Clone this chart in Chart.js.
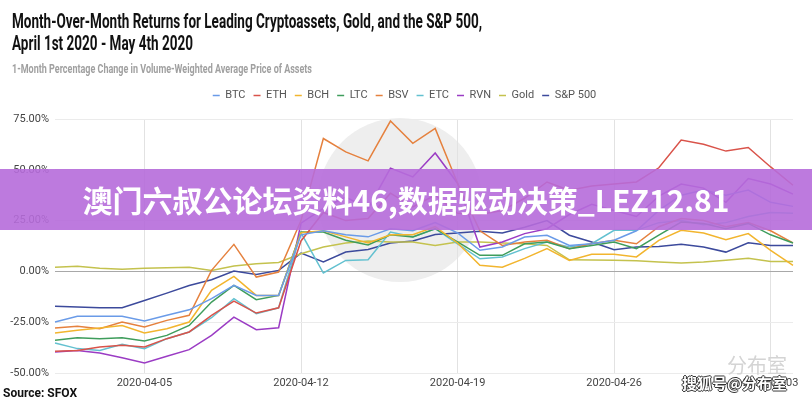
<!DOCTYPE html>
<html>
<head>
<meta charset="utf-8">
<script src="https://cdn.jsdelivr.net/npm/chart.js@4.4.0/dist/chart.umd.min.js"></script>
<style>
  html, body { margin: 0; padding: 0; background: #fff; }
  #wrap { position: relative; width: 812px; height: 400px; overflow: hidden; font-family: Roboto, sans-serif; }
  .txt { position: absolute; left: 12px; white-space: nowrap; transform-origin: 0 0; }
  #t1, #t2 { font-size: 21px; line-height: 21px; font-weight: 700; color: #111; }
  #t1 { top: 11px; }
  #t2 { top: 33px; }
  #sub { top: 63px; font-size: 12px; line-height: 12px; font-weight: 700; color: #a0a0a0; }
  #disc { position: absolute; left: 318px; top: 118px; width: 164px; height: 164px; border-radius: 50%; background: #eeeeee; }
  #chart { position: absolute; left: 0; top: 0; }
  #src { position: absolute; left: 3px; top: 387px; font-size: 12px; line-height: 12px; font-weight: 700; color: #111; }
  #banner { position: absolute; left: 0; top: 169px; width: 812px; height: 61px; background: rgba(182, 108, 218, 0.9);
            color: #fff; font-family: "Noto Sans CJK SC", sans-serif; font-weight: 700; font-size: 30px; line-height: 61px; text-align: center; }
  #wm1 { position: absolute; left: 727px; top: 350px; font-family: "Noto Sans CJK SC", sans-serif; font-size: 20px; color: #d4d4d4; }
  #wm2 { position: absolute; left: 682px; top: 372px; font-family: "Noto Sans CJK SC", sans-serif; font-size: 15px; font-weight: 700; color: #fff;
         text-shadow: -1px 0 #333, 1px 0 #333, 0 -1px #333, 0 1px #333; }
</style>
</head>
<body>
<div id="wrap">
  <div id="disc"></div>
  <canvas id="chart" width="812" height="400"></canvas>
  <div class="txt" id="t1"><span>Month-Over-Month Returns for Leading Cryptoassets, Gold, and the S&amp;P 500,</span></div>
  <div class="txt" id="t2"><span>April 1st 2020 - May 4th 2020</span></div>
  <div class="txt" id="sub"><span>1-Month Percentage Change in Volume-Weighted Average Price of Assets</span></div>
  <div id="src">Source: SFOX</div>
  <div id="banner">澳门六叔公论坛资料46,数据驱动决策_LEZ12.81</div>
  <div id="wm1">分布室</div>
  <div id="wm2">搜狐号@分布室</div>
</div>
<script>
// ── data ─────────────────────────────────────────────
const dates = [
  "2020-04-01","2020-04-02","2020-04-03","2020-04-04","2020-04-05","2020-04-06","2020-04-07","2020-04-08",
  "2020-04-09","2020-04-10","2020-04-11","2020-04-12","2020-04-13","2020-04-14","2020-04-15","2020-04-16",
  "2020-04-17","2020-04-18","2020-04-19","2020-04-20","2020-04-21","2020-04-22","2020-04-23","2020-04-24",
  "2020-04-25","2020-04-26","2020-04-27","2020-04-28","2020-04-29","2020-04-30","2020-05-01","2020-05-02",
  "2020-05-03","2020-05-04"
];
const tickDates = ["2020-04-05", "2020-04-12", "2020-04-19", "2020-04-26", "2020-05-03"];
const yTicks = [-50, -25, 0, 25, 50, 75];

const btc   = [-24.9,-22.1,-22.1,-22.1,-24.4,-21.6,-18.9,-13.4,-6.9,-11.8,-11.8, 18,20,18,17,21,20,24,19, 10.4,12,16.9,17.8,12.8,13.6,15.3,20, 30,37.5,40,37.5,40,34,32];
const eth   = [-39.3,-38.9,-37.2,-36.4,-37.2,-33.1,-29.8,-21.6,-14.6,-20.5,-17.9, 15,29,25,26,38.5,31.7,37.5,28.6, 28,30,36,44,40,42,43,44, 51,64.6,62.6,59.2,61,51.4,42.4];
const bch   = [-30.3,-29,-27.9,-26.6,-30.3,-28.2,-24.9,-9.3,-2.5,-11.8,-11.8, 19,20,17,14,18,18,22,14, 3,2.1,6.4,11.2,5.4,8.4,8.4,7.1, 15.3,20.2,18.9,15.6,18.6,10.4,3];
const ltc   = [-33.9,-32.6,-33.1,-32.6,-34.3,-31.5,-26.6,-15.1,-6.9,-13.9,-11.8, 19.4,19.4,15.3,13,18,16.9,21,14.5, 7.9,7.9,13.6,14.5,11.2,12.8,14.5,11.2, 17.8,24.3,23.6,21,23.6,18,14];
const bsv   = [-27.9,-27,-28.2,-24.9,-27.4,-24.1,-21.6,0.5,13.3,-2.8,-0.3, 25,65.4,58.8,54.4,74,63,70.4,43.4, 20,12.8,14.5,15.3,11.2,13.6,15.3,13.6, 22,26,25,22,24,20,14];
const etc   = [-35.2,-38,-38.9,-35.9,-38,-33.1,-29.8,-22.8,-13.4,-20.8,-17.9, 19,-0.8,5.4,5.7,19.4,17,21,13.6, 6.2,7.1,11.2,14.5,12,13.6,20.2,20.2, 24,25,23,24,27,29,28.6];
const rvn   = [-39.7,-38.9,-40.2,-42.5,-45.1,-41.8,-38.5,-31.5,-22.5,-28.7,-27.7, 23.7,31,36.6,31,50.8,46.5,58.3,43.4, 12,14.5,18.6,21,28,33,30,27, 37,43,41,34,45.7,43,38];
const gold  = [2.1,2.5,1.6,1.0,1.6,1.8,2.0,0.5,2.6,3.8,4.4, 8.7,12,14,15,14.5,14.5,12.8,14.5, 14.5,14,13.6,12.8,5.7,5.6,5.5,5.3, 4.6,4.1,4.6,5.5,6.5,4.9,4.9];
const sp500 = [-17.2,-17.5,-17.9,-17.9,-14.3,-10.7,-6.9,-4.1,0.2,-1.5,0.5, 9.0,4.6,9.5,10.8,14,15,18.2,18.9, 19.7,18.9,21.7,25,17.8,14.5,10.7,12, 12.3,13.3,12,9.5,14.1,12.8,12.8];

const seriesNames  = ["BTC", "ETH", "BCH", "LTC", "BSV", "ETC", "RVN", "Gold", "S&P 500"];
const seriesValues = [btc, eth, bch, ltc, bsv, etc, rvn, gold, sp500];
const seriesColors = ["#6a9be8", "#d9534a", "#f2b52e", "#3f9d5c", "#e5813e", "#63c1d0", "#9b3cc4", "#c4c24e", "#3c4a9c"];

// ── fit the condensed-looking title lines ───────────
function fitWidth(id, w) {
  const el = document.getElementById(id);
  const span = el.querySelector("span");
  const k = w / span.getBoundingClientRect().width;
  el.style.transform = `scaleX(${k})`;
  return k;
}
const k1 = fitWidth("t1", 470);
document.getElementById("t2").style.transform = `scaleX(${k1})`;
fitWidth("sub", 300);

// ── chart ────────────────────────────────────────────
Chart.defaults.font.family = "Roboto";

// fixed legend height + small nudge to the right, like the source
const legendTweak = {
  id: "legendTweak",
  beforeInit(chart) {
    const lg = chart.legend;
    const fit = lg.fit, draw = lg.draw;
    lg.fit = function () { fit.call(this); this.height = 37; };
    lg.draw = function () {
      const ctx = this.ctx;
      ctx.save(); ctx.translate(8, 0); draw.call(this); ctx.restore();
    };
  }
};

new Chart(document.getElementById("chart"), {
  type: "line",
  data: {
    labels: dates,
    datasets: seriesNames.map((name, i) => ({
      label: name,
      data: seriesValues[i],
      borderColor: seriesColors[i],
      backgroundColor: seriesColors[i],
      borderWidth: 1.5,
      pointRadius: 0,
      tension: 0,
      fill: false,
    })),
  },
  options: {
    responsive: false,
    animation: false,
    layout: { padding: { top: 82, right: 19, left: 0, bottom: 0 } },
    plugins: {
      legend: {
        position: "top",
        labels: {
          usePointStyle: true,
          pointStyle: "line",
          pointStyleWidth: 7,
          boxHeight: 8,
          padding: 8,
          color: "#555",
          font: { size: 11 },
        },
      },
      tooltip: { enabled: false },
    },
    scales: {
      x: {
        type: "category",
        offset: false,
        border: { display: false },
        grid: {
          drawTicks: false,
          color: ctx => (ctx.tick && tickDates.includes(dates[ctx.tick.value])) ? "#e2e2e2" : "rgba(0,0,0,0)",
        },
        ticks: {
          autoSkip: false,
          maxRotation: 0,
          padding: 4,
          color: "#444",
          font: { size: 11 },
          callback: (v, i) => tickDates.includes(dates[i]) ? dates[i] : "",
        },
        afterFit: s => { s.height = 27; },
      },
      y: {
        min: yTicks[0],
        max: yTicks[yTicks.length - 1],
        border: { display: false },
        grid: {
          drawTicks: false,
          color: ctx => ctx.tick && ctx.tick.value === 0 ? "#a8a8a8" : "#ebebeb",
        },
        ticks: {
          stepSize: 25,
          padding: 6,
          color: "#444",
          font: { size: 11 },
          callback: v => v.toFixed(2) + "%",
        },
        afterBuildTicks: s => { s.ticks = yTicks.map(v => ({ value: v })); },
        afterFit: s => { s.width = 55; },
      },
    },
  },
  plugins: [legendTweak],
});
</script>
</body>
</html>
